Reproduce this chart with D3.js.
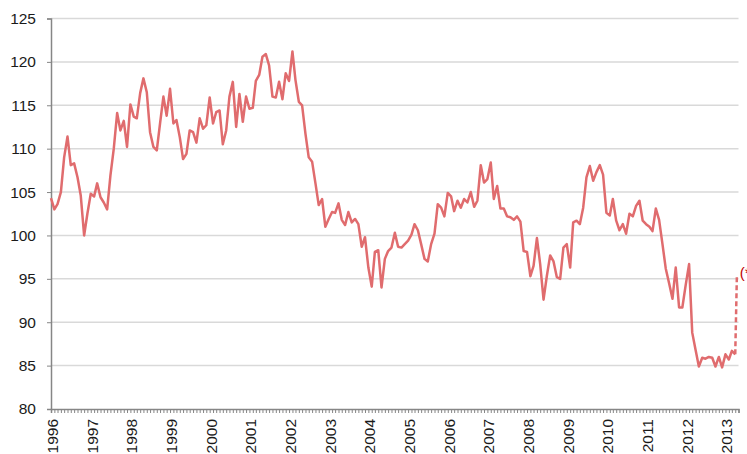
<html>
  <head>
    <meta charset="utf-8">
    <title>Index 1996-2013</title>
    <style>
      body { margin: 0; background: #fff; }
      text { font-family: "Liberation Sans", Arial, sans-serif; }
    </style>
  </head>

  <body>
  	<div id="container"></div>
  </body>

  <script src="https://cdn.jsdelivr.net/npm/d3@7/dist/d3.min.js"></script>

  <script>
  // monthly values, Jan 1996 onwards
  var startMonth = new Date(1996, 0, 1);
  var values = [
  	104.3, 103.0, 103.6, 105.0, 109.0, 111.4, 108.1, 108.3, 106.7, 104.6, 100.0, 102.5,
  	104.8, 104.5, 106.0, 104.4, 103.8, 103.0, 106.9, 110.0, 114.1, 112.1, 113.2, 110.2,
  	115.1, 113.7, 113.5, 116.4, 118.1, 116.5, 111.9, 110.2, 109.8, 112.9, 116.0, 113.8,
  	116.9, 112.9, 113.3, 111.3, 108.8, 109.4, 112.1, 111.9, 110.7, 113.5, 112.3, 112.7,
  	115.9, 112.9, 114.2, 114.4, 110.5, 112.1, 116.0, 117.7, 112.5, 116.3, 113.1, 116.0,
  	114.6, 114.7, 117.8, 118.5, 120.6, 120.9, 119.6, 116.0, 115.9, 117.7, 115.7, 118.7,
  	117.8, 121.2, 117.9, 115.4, 115.0, 111.7, 109.0, 108.5, 106.0, 103.5, 104.2, 101.0,
  	101.9, 102.7, 102.6, 103.7, 101.8, 101.2, 102.7, 101.5, 101.9, 101.3, 98.7, 99.8,
  	96.3, 94.1, 98.1, 98.3, 94.0, 97.3, 98.2, 98.6, 100.3, 98.7, 98.6, 99.0,
  	99.4, 100.1, 101.3, 100.6, 99.0, 97.3, 97.0, 99.0, 100.2, 103.6, 103.2, 102.2,
  	104.9, 104.5, 102.8, 104.0, 103.2, 104.2, 103.8, 105.0, 103.3, 104.0, 108.1, 106.1,
  	106.5, 108.4, 104.2, 105.7, 103.1, 103.1, 102.2, 102.1, 101.8, 102.2, 101.6, 98.2,
  	98.1, 95.3, 96.5, 99.7, 96.7, 92.6, 95.3, 97.7, 97.0, 95.2, 95.0, 98.6,
  	99.0, 96.3, 101.5, 101.7, 101.3, 103.2, 106.7, 108.0, 106.3, 107.3, 108.1, 107.0,
  	102.6, 102.3, 104.2, 101.7, 100.6, 101.3, 100.2, 102.5, 102.2, 103.4, 104.0, 101.7,
  	101.3, 101.0, 100.5, 103.1, 101.8, 99.0, 96.2, 94.5, 92.7, 96.3, 91.7, 91.7,
  	94.3, 96.7, 88.8, 86.8, 84.9, 85.9, 85.8, 86.0, 85.9, 84.9, 86.0, 84.8,
  	86.3, 85.7, 86.7, 86.3
  ];
  // estimated value shown dashed, with a note
  var estimateDate = new Date(2013, 3, 16);
  var estimateValue = 95.3;
  var estimateNote = "(*)";

  var yearLabels = ["1996", "1997", "1998", "1999", "2000", "2001", "2002", "2003", "2004",
  	"2005", "2006", "2007", "2008", "2009", "2010", "2011", "2012", "2013"];
  var yTicks = [80, 85, 90, 95, 100, 105, 110, 115, 120, 125];

  function main() {
  	var width = 747, height = 454;
  	var left = 51, right = 738.5, top = 18.5, bottom = 409;

  	var svg = d3.select("#container").append("svg")
  		.attr("width", width)
  		.attr("height", height);

  	var data = values.map(function(v, i) {
  		return { date: d3.timeMonth.offset(startMonth, i), value: v };
  	});

  	var x = d3.scaleTime()
  		.domain([startMonth, d3.timeMonth.offset(startMonth, 208)])
  		.range([left, right]);

  	var y = d3.scaleLinear()
  		.domain([80, 125])
  		.range([bottom, top]);

  	// gridlines
  	svg.append("g").selectAll("line")
  		.data(yTicks.filter(function(d) { return d > 80; }))
  		.enter().append("line")
  		.attr("x1", left).attr("x2", right)
  		.attr("y1", function(d) { return y(d); })
  		.attr("y2", function(d) { return y(d); })
  		.attr("stroke", "#d9d9d9")
  		.attr("stroke-width", 1.5);

  	// y axis
  	var yAxis = svg.append("g")
  		.attr("transform", "translate(" + left + ",0)")
  		.call(d3.axisLeft(y).tickValues(yTicks).tickSize(4).tickPadding(11));
  	yAxis.select(".domain").attr("stroke", "#868686").attr("stroke-width", 1.5);
  	yAxis.selectAll(".tick line").attr("stroke", "#868686");
  	yAxis.selectAll(".tick text")
  		.attr("font-size", "15.5px")
  		.attr("font-family", "'Liberation Sans', Arial, sans-serif")
  		.attr("fill", "#1a1a1a");

  	// x axis: a tick every month, a label each January
  	var months = d3.timeMonth.range(startMonth, d3.timeMonth.offset(startMonth, 209));
  	var xAxis = svg.append("g")
  		.attr("transform", "translate(0," + bottom + ")")
  		.call(d3.axisBottom(x).tickValues(months).tickSize(4).tickFormat(""));
  	xAxis.select(".domain").attr("stroke", "#868686").attr("stroke-width", 1.5);
  	xAxis.selectAll(".tick line").attr("stroke", "#868686");

  	svg.append("g").selectAll("text")
  		.data(yearLabels)
  		.enter().append("text")
  		.attr("transform", function(d) {
  			var px = x(new Date(+d, 0, 1)) + 1.5;
  			return "translate(" + px + "," + (bottom + 10) + ") rotate(-90)";
  		})
  		.attr("dy", "0.35em")
  		.attr("text-anchor", "end")
  		.attr("font-size", "15.5px")
  		.attr("fill", "#1a1a1a")
  		.text(function(d) { return d; });

  	var line = d3.line()
  		.x(function(d) { return x(d.date); })
  		.y(function(d) { return y(d.value); });

  	svg.append("path")
  		.datum(data)
  		.attr("fill", "none")
  		.attr("stroke", "#e06c6e")
  		.attr("stroke-width", 2.5)
  		.attr("stroke-linejoin", "round")
  		.attr("d", line);

  	var last = data[data.length - 1];
  	var est = [last, { date: estimateDate, value: estimateValue }];
  	svg.append("path")
  		.datum(est)
  		.attr("fill", "none")
  		.attr("stroke", "#e06c6e")
  		.attr("stroke-width", 2.5)
  		.attr("stroke-dasharray", "5,3")
  		.attr("d", line);

  	svg.append("text")
  		.attr("x", x(estimateDate) + 3)
  		.attr("y", y(estimateValue) + 2)
  		.attr("font-size", "15px")
  		.attr("fill", "#c00000")
  		.text(estimateNote);
  }

  window.onload = main;
  </script>
</html>
